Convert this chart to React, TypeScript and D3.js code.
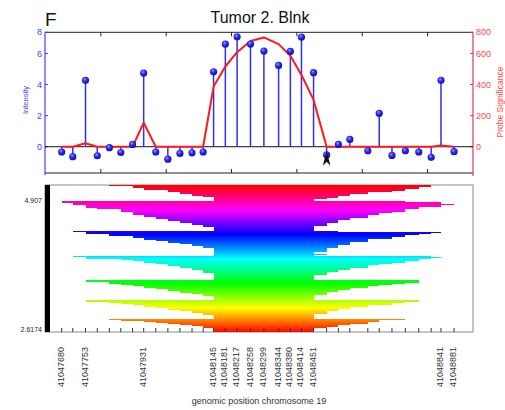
import React from 'react';
import * as d3 from 'd3';

// probe genomic positions (chromosome 19)
const probePositions = [
  41047680, 41047714, 41047753, 41047789, 41047826, 41047861, 41047897, 41047931,
  41047968, 41048005, 41048042, 41048079, 41048113, 41048145, 41048181, 41048217,
  41048258, 41048299, 41048344, 41048380, 41048414, 41048451, 41048491, 41048527,
  41048562, 41048617, 41048652, 41048691, 41048732, 41048773, 41048811, 41048841,
  41048881,
];
const intensity = [
  -0.34, -0.64, 4.27, -0.58, -0.06, -0.37, 0.15, 4.74, -0.34, -0.8, -0.43, -0.39,
  -0.34, 4.82, 6.6, 7.07, 6.6, 6.15, 5.23, 6.13, 7.05, 4.76, -0.53, 0.15, 0.47,
  -0.26, 2.15, -0.56, -0.26, -0.34, -0.68, 4.27, -0.32,
];
const significance = [
  0, 0, 22, 0, 0, 0, 0, 155, 0, 0, 0, 0, 0, 387, 516, 608, 680, 703, 660, 585, 462,
  301, 0, 0, 0, 0, 0, 0, 0, 0, 0, 8, 0,
];
const labeledPositions = [
  41047680, 41047753, 41047931, 41048145, 41048181, 41048217, 41048258, 41048299,
  41048344, 41048380, 41048414, 41048451, 41048841, 41048881,
];
const intensityTicks = [0, 2, 4, 6, 8];
const significanceTicks = [0, 200, 400, 600, 800];
const positionTicks = [41047800, 41048000, 41048200, 41048400, 41048600, 41048800];
const arrowProbe = 22;

// segment rows of the lower panel (probe index of start / end), one list per band
const bandStarts = [
  [4, 6, 6, 7, 7, 9, 9, 10, 10, 11, 11, 12, 13, 13, 13, 13],
  [0, 0, 1, 1, 2, 2, 2, 3, 5, 5, 5, 6, 6, 6, 7, 7, 8, 8, 9, 9, 10, 10, 11, 11, 12, 12, 13, 13, 13, 13],
  [1, 2, 2, 4, 4, 6, 6, 7, 7, 8, 9, 9, 10, 11, 11, 12, 12, 13, 13, 13, 13, 13, 13, 13, 13],
  [1, 2, 2, 5, 6, 7, 7, 8, 9, 9, 10, 10, 11, 11, 12, 12, 12, 13, 13, 13, 13, 13, 13, 13],
  [2, 2, 4, 4, 5, 6, 7, 7, 8, 9, 9, 10, 10, 11, 12, 12, 13, 13, 13, 13],
  [2, 2, 4, 5, 6, 7, 7, 8, 9, 9, 10, 11, 11, 12, 12, 13, 13, 13, 13],
  [4, 5, 7, 8, 9, 10, 11, 12, 12, 13, 13, 13, 13],
];
const bandEnds = [
  [30, 30, 29, 29, 28, 28, 27, 25, 25, 24, 24, 23, 23, 22, 21, 21],
  [28, 31, 31, 32, 31, 31, 29, 29, 28, 28, 28, 27, 26, 26, 25, 25, 25, 24, 24, 23, 23, 23, 22, 22, 22, 21, 21, 21, 21, 21],
  [23, 31, 30, 29, 28, 28, 27, 27, 25, 25, 25, 24, 24, 24, 23, 23, 23, 22, 22, 22, 22, 21, 21, 22, 21],
  [30, 31, 30, 29, 29, 28, 28, 27, 26, 25, 25, 25, 24, 24, 23, 23, 22, 22, 22, 21, 21, 21, 21, 21],
  [29, 29, 29, 28, 27, 26, 25, 25, 24, 24, 23, 23, 22, 22, 22, 21, 21, 21, 21, 21],
  [29, 29, 28, 27, 27, 25, 25, 24, 24, 23, 23, 22, 22, 22, 21, 21, 21, 21, 21],
  [28, 26, 26, 25, 25, 24, 23, 23, 22, 21, 21, 21, 21],
];
const lowerLabels = ['4.907', '2.6174'];

const FONT = "'Liberation Sans', Arial, sans-serif";

export default function App() {
  const W = 505, H = 410;
  const left = 45, right = 473;
  const top1 = 32.3, bot1 = 173;
  const top2 = 185, bot2 = 332;

  const x = d3.scaleLinear().domain([41047629, 41048939]).range([left, right]);
  const yI = d3.scaleLinear().domain([-1.69, 7.36]).range([bot1, top1]).clamp(true);
  const yS = d3.scaleLinear().domain([-169, 736]).range([bot1, top1]).clamp(true);

  const rows: { s: number; e: number }[] = [];
  bandStarts.forEach((b, bi) => b.forEach((s, i) => rows.push({ s, e: bandEnds[bi][i] })));
  const N = rows.length;
  const yRow = d3.scaleBand<number>().domain(d3.range(N)).range([top2, bot2]);
  const hue = d3.scaleLinear().domain([0, N]).range([360, 0]);

  const sigLine = d3
    .line<number>()
    .x((_, i) => x(probePositions[i]))
    .y((d) => yS(d))(significance) as string;

  const ax = x(probePositions[arrowProbe]);
  const blue = '#4040ff';
  const red = '#ff4848';

  return (
    <svg width={W} height={H} style={{ position: 'absolute', left: 0, top: 0, background: '#fff' }} fontFamily={FONT}>
      <defs>
        <radialGradient id="ball" cx="40%" cy="35%" r="65%">
          <stop offset="0%" stopColor="#9a9aff" />
          <stop offset="45%" stopColor="#2a2af0" />
          <stop offset="100%" stopColor="#1010b0" />
        </radialGradient>
      </defs>

      {/* panel letter & title */}
      <text x={45} y={26} fontSize={19} fill="#111">F</text>
      <text x={260} y={23} fontSize={16} textAnchor="middle" fill="#111">Tumor 2. Blnk</text>

      {/* top panel frame */}
      <line x1={left} x2={right} y1={top1} y2={top1} stroke="#222" strokeWidth={1} />
      <line x1={left} x2={right} y1={bot1} y2={bot1} stroke="#222" strokeWidth={1} />
      {positionTicks.map((t) => (
        <g key={'pt' + t}>
          <line x1={x(t)} x2={x(t)} y1={top1} y2={top1 + 4} stroke="#222" />
          <line x1={x(t)} x2={x(t)} y1={bot1} y2={bot1 - 4} stroke="#222" />
        </g>
      ))}
      <line x1={left} x2={left} y1={top1} y2={175} stroke={blue} strokeWidth={1.2} />
      <line x1={right} x2={right} y1={top1} y2={176} stroke="#d03878" strokeWidth={1.2} />
      {intensityTicks.map((t) => (
        <g key={'it' + t}>
          <line x1={left} x2={left + 3} y1={yI(t)} y2={yI(t)} stroke={blue} />
          <text x={42} y={yI(t)} dy="0.35em" fontSize={9} textAnchor="end" fill={blue}>{t}</text>
        </g>
      ))}
      {significanceTicks.map((t) => (
        <g key={'st' + t}>
          <line x1={right - 3} x2={right} y1={yS(t)} y2={yS(t)} stroke="#d03878" />
          <text x={476} y={yS(t)} dy="0.35em" fontSize={9} textAnchor="start" fill={red}>{t}</text>
        </g>
      ))}
      <text transform="translate(27.5,100) rotate(-90)" fontSize={7.5} textAnchor="middle" fill={blue}>Intensity</text>
      <text transform="translate(503,102) rotate(-90)" fontSize={8.5} textAnchor="middle" fill={red}>Probe Significance</text>

      {/* zero line */}
      <line x1={left} x2={right} y1={yI(0)} y2={yI(0)} stroke="#111" strokeWidth={1} />

      {/* stems */}
      {intensity.map((v, i) => (
        <line key={'s' + i} x1={x(probePositions[i])} x2={x(probePositions[i])} y1={yI(0)} y2={yI(v)} stroke="#3030f0" strokeWidth={1.5} />
      ))}
      {/* significance curve */}
      <path d={sigLine} fill="none" stroke="#ff1a1a" strokeWidth={2} strokeLinejoin="round" />
      {intensity.map((v, i) => (
        <circle key={'c' + i} cx={x(probePositions[i])} cy={yI(v)} r={3.6} fill="url(#ball)" />
      ))}
      {/* data cursor arrow */}
      <path d={`M${ax},${yI(0) + 4} L${ax - 3.8},${yI(0) + 19} L${ax},${yI(0) + 15} L${ax + 3.8},${yI(0) + 19} Z`} fill="#111" />

      {/* lower panel */}
      <rect x={left} y={top2} width={right - left} height={bot2 - top2} fill="#fff" stroke="#8a8a8a" />
      <g shapeRendering="crispEdges">
        {rows.map((r, i) => (
          <rect
            key={'r' + i}
            x={x(probePositions[r.s])}
            y={yRow(i)}
            width={x(probePositions[r.e]) - x(probePositions[r.s])}
            height={yRow.bandwidth()}
            fill={d3.hsl(hue(i), 1, 0.5).toString()}
          />
        ))}
      </g>
      <rect x={left} y={top2} width={5} height={bot2 - top2} fill="#000" />
      {probePositions.map((p, i) => (
        <line key={'bt' + i} x1={x(p)} x2={x(p)} y1={bot2} y2={bot2 - 4} stroke="#333" />
      ))}
      <text x={42} y={201} dy="0.35em" fontSize={7} textAnchor="end" fill="#222">{lowerLabels[0]}</text>
      <text x={42} y={330} dy="0.35em" fontSize={7} textAnchor="end" fill="#222">{lowerLabels[1]}</text>

      {/* genomic position labels */}
      {labeledPositions.map((p) => (
        <text key={'lp' + p} transform={`translate(${x(p) + 2},347) rotate(-90)`} fontSize={9} textAnchor="end" fill="#333">{p}</text>
      ))}
      <text x={259} y={404} fontSize={9} textAnchor="middle" fill="#333">genomic position chromosome 19</text>
    </svg>
  );
}
